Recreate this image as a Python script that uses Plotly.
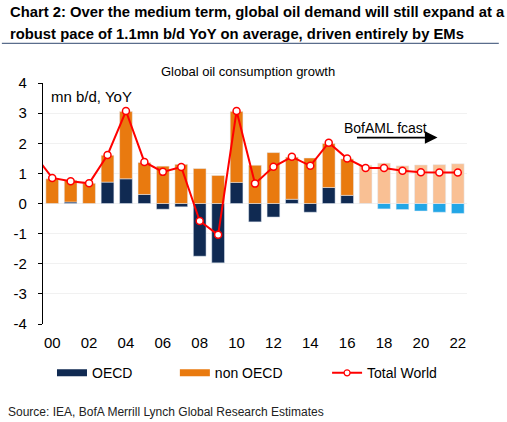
import plotly.graph_objects as go

years = list(range(2000, 2023))
oecd = [0.0, 0.05, 0.0, 0.71, 0.82, 0.30, -0.19, -0.11, -1.75, -1.97, 0.70, -0.61,
        -0.45, 0.14, -0.29, 0.53, 0.27, 0.0, -0.18, -0.20, -0.25, -0.29, -0.33]
non_oecd = [0.82, 0.72, 0.67, 0.89, 2.23, 1.06, 1.24, 1.30, 1.16, 0.93, 2.35, 1.27,
            1.69, 1.40, 1.51, 1.46, 1.21, 1.27, 1.34, 1.25, 1.28, 1.29, 1.32]
total_years = list(range(1999, 2023))
total_world = [1.65, 0.85, 0.74, 0.67, 1.61, 3.07, 1.38, 1.05, 1.21, -0.58, -1.04, 3.07,
               0.66, 1.22, 1.55, 1.25, 2.02, 1.49, 1.18, 1.18, 1.09, 1.04, 1.03, 1.03]
forecast_start = 2017
tick_years = list(range(2000, 2023, 2))
tick_labels = [f"{y % 100:02d}" for y in tick_years]
y_ticks = list(range(-4, 5))
y_tick_labels = [str(v) for v in y_ticks]

NAVY = "#102a52"
ORANGE = "#e97a0f"
LIGHT_ORANGE = "#f9c094"
LIGHT_BLUE = "#22a6e6"
RED = "#ff0000"
FONT = "Liberation Sans, Arial, sans-serif"

hist = [i for i, y in enumerate(years) if y < forecast_start]
fc = [i for i, y in enumerate(years) if y >= forecast_start]

fig = go.Figure()
fig.add_trace(go.Bar(x=[years[i] for i in hist], y=[oecd[i] for i in hist],
                     marker_color=NAVY, name="OECD", showlegend=False))
fig.add_trace(go.Bar(x=[years[i] for i in hist], y=[non_oecd[i] for i in hist],
                     marker_color=ORANGE, name="non OECD", showlegend=False))
fig.add_trace(go.Bar(x=[years[i] for i in fc], y=[oecd[i] for i in fc],
                     marker_color=LIGHT_BLUE, name="OECD fcast", showlegend=False))
fig.add_trace(go.Bar(x=[years[i] for i in fc], y=[non_oecd[i] for i in fc],
                     marker_color=LIGHT_ORANGE, name="non OECD fcast", showlegend=False))
fig.add_trace(go.Scatter(x=total_years, y=total_world, mode="lines+markers",
                         line=dict(color=RED, width=2),
                         marker=dict(size=7, color="white", line=dict(color=RED, width=1.5)),
                         name="Total World", showlegend=False))
# legend entries, one legend each so they can be spaced like the original
fig.add_trace(go.Scatter(x=[None], y=[None], mode="lines", line=dict(color=NAVY, width=7),
                         name="OECD", legend="legend"))
fig.add_trace(go.Scatter(x=[None], y=[None], mode="lines", line=dict(color=ORANGE, width=7),
                         name="non OECD", legend="legend2"))
fig.add_trace(go.Scatter(x=[None], y=[None], mode="lines+markers", line=dict(color=RED, width=2),
                         marker=dict(size=6, color="white", line=dict(color=RED, width=1.2)),
                         name="Total World", legend="legend3"))

leg_common = dict(orientation="h", xanchor="left", y=-0.138, yanchor="top",
                  font=dict(size=14), bgcolor="rgba(0,0,0,0)")

fig.update_layout(
    width=507, height=422,
    margin=dict(l=43, r=40, t=83, b=98),
    paper_bgcolor="white", plot_bgcolor="white",
    barmode="relative", bargap=0.31,
    font=dict(family=FONT, color="#000000", size=14),
    xaxis=dict(range=[1999.5, 2022.5], tickmode="array", tickvals=tick_years, ticktext=tick_labels,
               showgrid=False, showline=False, zeroline=False, ticks="", tickfont=dict(size=15),
               ticklabelstandoff=8, fixedrange=True),
    xaxis2=dict(range=[1999.5, 2022.5], overlaying="x", anchor="free", position=0.5,
                showline=True, linecolor="#000000", linewidth=1.2, ticks="outside", ticklen=4,
                tickcolor="#000000", tickmode="linear", tick0=2001.5, dtick=2,
                showticklabels=False, showgrid=False, zeroline=False),
    yaxis=dict(range=[-4, 4], tickmode="array", tickvals=y_ticks, ticktext=y_tick_labels,
               showline=True, linecolor="#000000", linewidth=1.2,
               ticks="outside", ticklen=4, tickcolor="#000000", showgrid=True, gridcolor="#f1f1f1",
               zeroline=False, tickfont=dict(size=15), ticklabelstandoff=8),
    legend=dict(x=0.0212, **leg_common),
    legend2=dict(x=0.311, **leg_common),
    legend3=dict(x=0.670, **leg_common),
    showlegend=True,
)

TITLE_FONT = dict(family=FONT, size=14.8, color="#000000")
fig.add_annotation(text="<b>Chart 2: Over the medium term, global oil demand will still expand at a</b>",
                   xref="paper", yref="paper", x=-0.0825, y=1.295, xanchor="left", yanchor="middle",
                   showarrow=False, font=TITLE_FONT)
fig.add_annotation(text="<b>robust pace of 1.1mn b/d YoY on average, driven entirely by EMs</b>",
                   xref="paper", yref="paper", x=-0.0825, y=1.204, xanchor="left", yanchor="middle",
                   showarrow=False, font=TITLE_FONT)
fig.add_shape(type="line", xref="paper", yref="paper", x0=-0.097, x1=1.075, y0=1.1645, y1=1.1645,
              line=dict(color="#5a6d8c", width=1.2))
fig.add_annotation(text="Global oil consumption growth", xref="paper", yref="paper", x=0.4835, y=1.048,
                   showarrow=False, font=dict(size=13), xanchor="center", yanchor="middle")
fig.add_annotation(text="mn b/d, YoY", xref="paper", yref="paper", x=0.015, y=0.942,
                   showarrow=False, font=dict(size=15), xanchor="left", yanchor="middle")
fig.add_annotation(text="BofAML fcast", x=2018.1, y=2.52, xref="x", yref="y",
                   showarrow=False, font=dict(size=14), xanchor="center", yanchor="middle")
fig.add_annotation(x=2020.9, y=2.19, ax=2016.45, ay=2.19, xref="x", yref="y", axref="x", ayref="y",
                   text="", showarrow=True, arrowhead=2, arrowsize=1.4, arrowwidth=1.8, arrowcolor="#000000")
fig.add_annotation(text="Source: IEA, BofA Merrill Lynch Global Research Estimates", xref="paper", yref="paper",
                   x=-0.088, y=-0.365, showarrow=False, font=dict(size=12, color="#222222"),
                   xanchor="left", yanchor="middle")

fig.write_html("out.html", config={"displayModeBar": False},
               post_script="document.body.style.margin='0px';")
